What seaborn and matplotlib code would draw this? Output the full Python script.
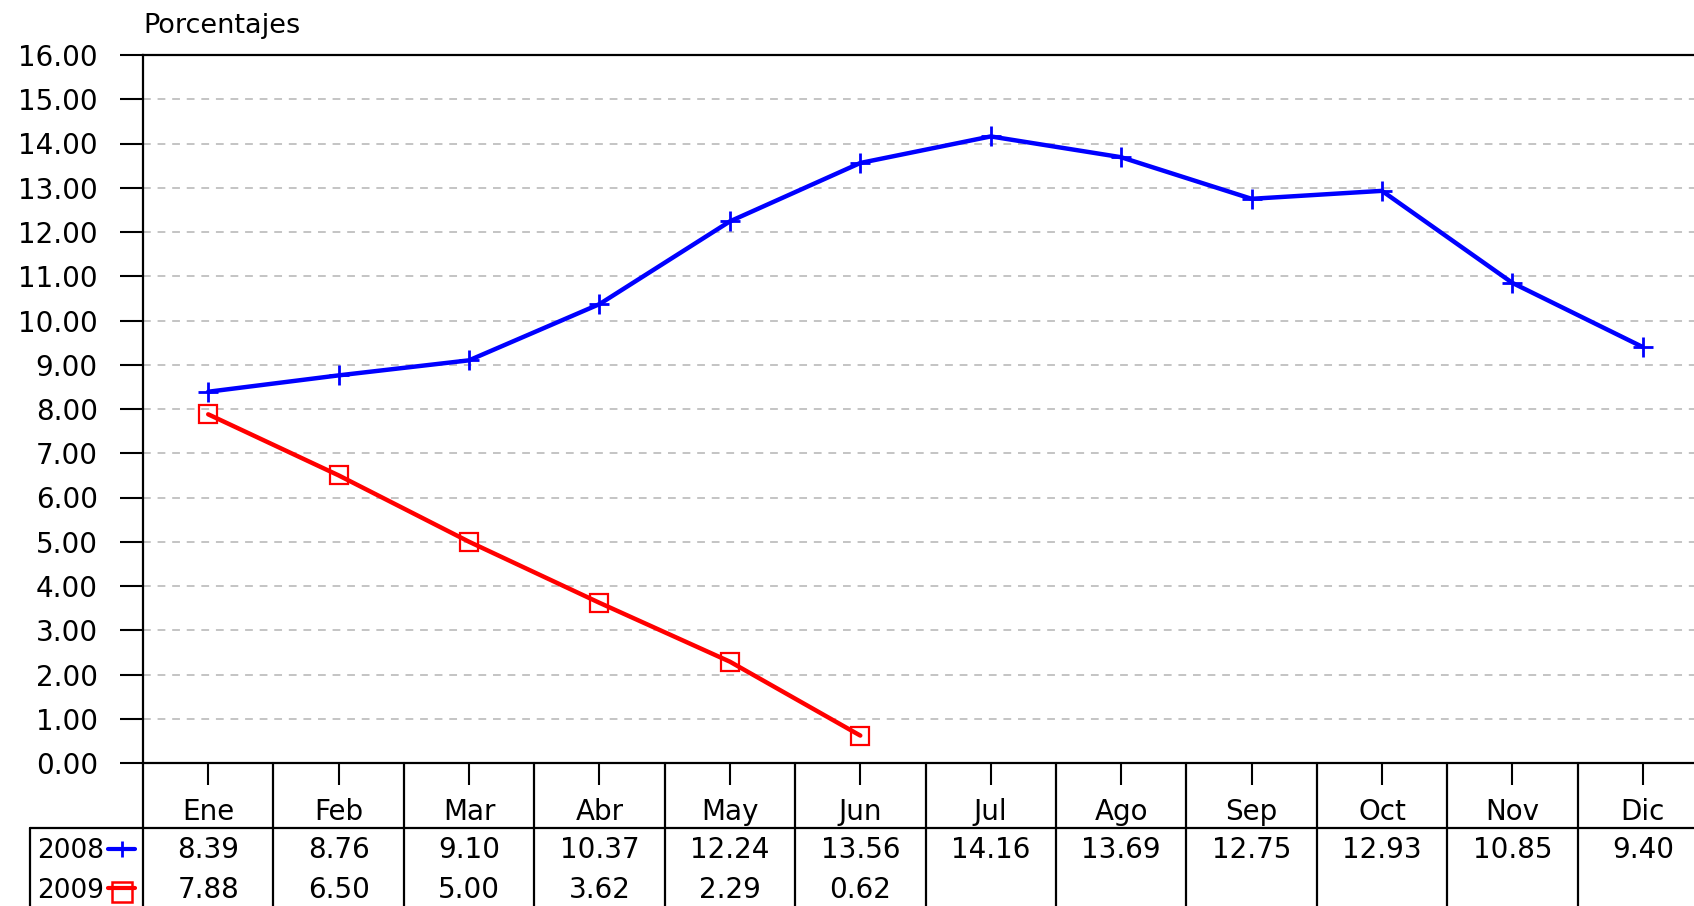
import matplotlib
matplotlib.use("Agg")
import matplotlib.pyplot as plt
import matplotlib.transforms as mtransforms
from matplotlib.lines import Line2D
from matplotlib.ticker import FormatStrFormatter
import seaborn as sns
import pandas as pd

# Monthly percentages
months = ["Ene", "Feb", "Mar", "Abr", "May", "Jun", "Jul", "Ago", "Sep", "Oct", "Nov", "Dic"]
values_2008 = [8.39, 8.76, 9.10, 10.37, 12.24, 13.56, 14.16, 13.69, 12.75, 12.93, 10.85, 9.40]
values_2009 = [7.88, 6.50, 5.00, 3.62, 2.29, 0.62]
series_names = ["2008", "2009"]
y_ticks = list(range(0, 17))

sns.set_style("white")
plt.rcParams["font.family"] = ["DejaVu Sans"]
plt.rcParams["font.size"] = 20
plt.rcParams["text.color"] = "black"
plt.rcParams["xtick.color"] = "black"
plt.rcParams["ytick.color"] = "black"
plt.rcParams["xtick.labelcolor"] = "black"
plt.rcParams["ytick.labelcolor"] = "black"

W, H = 1694, 906
fig = plt.figure(figsize=(W / 100, H / 100), dpi=100)
fig.patch.set_facecolor("white")

# Axes extend a little past the right edge of the canvas
ax_left, ax_right, ax_top, ax_bottom = 143, 1708, 55, 763
ax = fig.add_axes([ax_left / W, 1 - ax_bottom / H,
                   (ax_right - ax_left) / W, (ax_bottom - ax_top) / H])
ax.set_facecolor("white")

df08 = pd.DataFrame({"x": range(len(values_2008)), "y": values_2008})
df09 = pd.DataFrame({"x": range(len(values_2009)), "y": values_2009})

sns.lineplot(data=df08, x="x", y="y", ax=ax, color="#0000ff", linewidth=3.2,
             marker="+", markersize=15, markeredgewidth=2, markeredgecolor="#0000ff",
             zorder=4)
sns.lineplot(data=df09, x="x", y="y", ax=ax, color="#ff0000", linewidth=3.2,
             marker="s", markersize=13, markeredgewidth=1.6, markeredgecolor="#ff0000",
             markerfacecolor="none", zorder=4)

ax.set_xlim(-0.5, len(months) - 0.5)
ax.set_ylim(0, 16)
ax.set_yticks(y_ticks)
ax.yaxis.set_major_formatter(FormatStrFormatter("%.2f"))
ax.set_xticks(range(len(months)))
ax.set_xticklabels([])
ax.set_xlabel("")
ax.set_ylabel("")
ax.tick_params(axis="y", direction="out", length=16.5, width=1.5, color="black",
               labelcolor="black", pad=16, labelsize=20, left=True)
ax.tick_params(axis="x", direction="out", length=16, width=1.5, color="black",
               bottom=True)

# Dashed horizontal guides
for v in y_ticks[1:-1]:
    ax.axhline(v, color="#c4c4c4", linewidth=1.4, linestyle=(0, (4, 3.5)), zorder=1)

for side in ["top", "left", "bottom"]:
    ax.spines[side].set_visible(True)
    ax.spines[side].set_color("black")
    ax.spines[side].set_linewidth(1.6)
ax.spines["right"].set_visible(False)

fig.text(ax_left / W, 1 - 33 / H, "Porcentajes", ha="left", va="baseline", fontsize=19.5,
         color="black")

# Data table beneath the plot
tr = mtransforms.blended_transform_factory(ax.transData, fig.transFigure)
def fy(px):
    return 1 - px / H

for k in range(len(months) + 1):
    ax.add_line(Line2D([k - 0.5, k - 0.5], [fy(763), fy(915)], transform=tr,
                       color="black", linewidth=1.6, clip_on=False))
fig.add_artist(Line2D([30 / W, 1.0], [fy(828), fy(828)], color="black", linewidth=1.6))
fig.add_artist(Line2D([30 / W, 30 / W], [fy(828), fy(915)], color="black", linewidth=1.6))

for i, m in enumerate(months):
    ax.text(i, fy(820), m, transform=tr, ha="center", va="baseline", fontsize=20,
            color="black", clip_on=False)
for i, v in enumerate(values_2008):
    ax.text(i, fy(858), f"{v:.2f}", transform=tr, ha="center", va="baseline", fontsize=20,
            color="black", clip_on=False)
for i, v in enumerate(values_2009):
    ax.text(i, fy(898), f"{v:.2f}", transform=tr, ha="center", va="baseline", fontsize=20,
            color="black", clip_on=False)

# Row headers with series glyphs
fig.text(104 / W, fy(858), series_names[0], ha="right", va="baseline", fontsize=19,
         color="black")
fig.text(104 / W, fy(898), series_names[1], ha="right", va="baseline", fontsize=19,
         color="black")
fig.add_artist(Line2D([108 / W, 135 / W], [fy(849), fy(849)], color="#0000ff", linewidth=3))
fig.add_artist(Line2D([122 / W], [fy(849)], color="#0000ff", marker="|", markersize=12,
                      markeredgewidth=2))
fig.add_artist(Line2D([108 / W, 135 / W], [fy(888), fy(888)], color="#ff0000", linewidth=3))
fig.add_artist(Line2D([122 / W], [fy(892)], color="#ff0000", marker="s", markersize=14,
                      markeredgewidth=1.8, markerfacecolor="none", markeredgecolor="#ff0000"))

fig.savefig("out.png", dpi=100, facecolor="white")
